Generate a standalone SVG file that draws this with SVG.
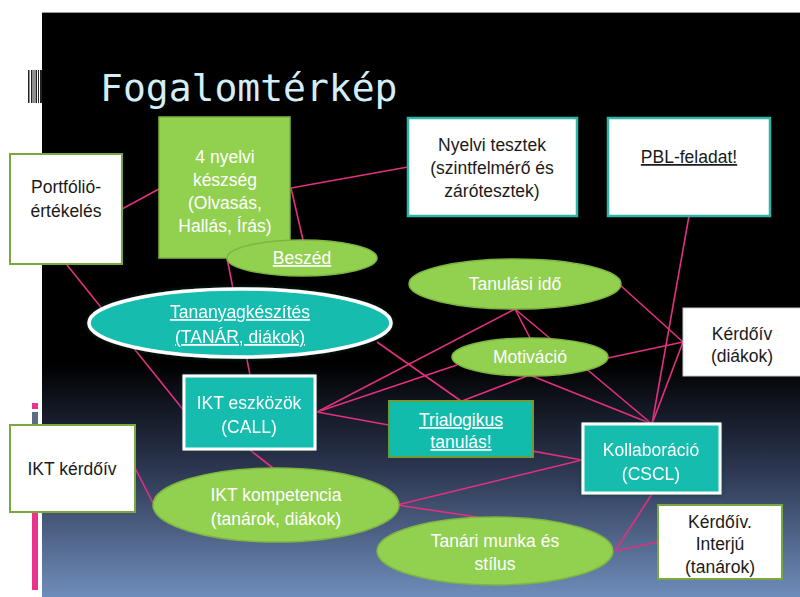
<svg xmlns="http://www.w3.org/2000/svg" width="800" height="597" viewBox="0 0 800 597">
<defs>
<linearGradient id="bg" x1="0" y1="12" x2="0" y2="597" gradientUnits="userSpaceOnUse">
<stop offset="0" stop-color="#000"/>
<stop offset="0.6" stop-color="#000"/>
<stop offset="0.78" stop-color="#2c3650"/>
<stop offset="1" stop-color="#6f8dba"/>
</linearGradient>
<filter id="glow" x="-20%" y="-20%" width="140%" height="140%">
<feDropShadow dx="0" dy="0" stdDeviation="2" flood-color="#0a3a36" flood-opacity="0.9"/>
</filter>
</defs>
<style>
.lnk{stroke:#e3307f;stroke-width:1.6;fill:none}
.wbg{fill:#fff;stroke:#79a83f;stroke-width:2}
.wbt{fill:#fff;stroke:#2db6a8;stroke-width:2.5}
.grn{fill:#92d050;stroke:#7fb541;stroke-width:1.5}
text{font-family:"Liberation Sans","Noto Sans",sans-serif;font-size:17.5px;text-anchor:middle}
.d{fill:#1a1a1a}
.l{fill:#fff}
.u{text-decoration:underline}
</style>
<rect x="0" y="0" width="800" height="597" fill="#fff"/>
<rect x="42" y="12" width="758" height="585" fill="url(#bg)"/>
<line x1="42" y1="12.5" x2="800" y2="12.5" stroke="#999" stroke-width="1"/>
<g id="deco" fill="#222">
<rect x="28" y="70" width="1.5" height="33"/>
<rect x="31" y="70" width="1.5" height="33"/>
<rect x="33.5" y="70" width="1" height="33"/>
<rect x="35.5" y="70" width="1.5" height="33"/>
<rect x="38" y="70" width="1" height="33"/>
<rect x="40" y="70" width="2" height="33"/>
<rect x="32" y="403" width="6" height="6" fill="#e8348a"/>
<rect x="32" y="412" width="6" height="20" fill="#5d6b85"/>
<rect x="32" y="505" width="6" height="85" fill="#e8348a"/>
</g>
<text x="100" y="101" style="font-family:'DejaVu Sans Mono',monospace;font-size:38px;text-anchor:start;fill:#d4eef8">Fogalomtérkép</text>
<g id="connectors">
<line class="lnk" x1="122" y1="209" x2="159" y2="189"/>
<line class="lnk" x1="67" y1="265" x2="185" y2="412"/>
<line class="lnk" x1="291" y1="188" x2="408" y2="167"/>
<line class="lnk" x1="291" y1="188" x2="303" y2="240"/>
<line class="lnk" x1="227" y1="258" x2="250" y2="375"/>
<line class="lnk" x1="377" y1="342" x2="461" y2="401"/>
<line class="lnk" x1="317" y1="412" x2="515" y2="309"/>
<line class="lnk" x1="317" y1="412" x2="457" y2="365"/>
<line class="lnk" x1="317" y1="412" x2="582" y2="460"/>
<line class="lnk" x1="515" y1="309" x2="530" y2="338"/>
<line class="lnk" x1="515" y1="309" x2="652" y2="424"/>
<line class="lnk" x1="620" y1="285" x2="683" y2="342"/>
<line class="lnk" x1="608" y1="358" x2="683" y2="342"/>
<line class="lnk" x1="689" y1="216" x2="652" y2="424"/>
<line class="lnk" x1="683" y1="342" x2="652" y2="424"/>
<line class="lnk" x1="532" y1="376" x2="652" y2="424"/>
<line class="lnk" x1="527" y1="376" x2="462" y2="401"/>
<line class="lnk" x1="397" y1="505" x2="582" y2="460"/>
<line class="lnk" x1="397" y1="505" x2="477" y2="517"/>
<line class="lnk" x1="250" y1="450" x2="273" y2="468"/>
<line class="lnk" x1="135" y1="468" x2="153" y2="503"/>
<line class="lnk" x1="615" y1="551" x2="658" y2="542"/>
<line class="lnk" x1="615" y1="551" x2="652" y2="494"/>
</g>
<g id="portfolio">
<rect class="wbg" x="10" y="154" width="112" height="110"/>
<text class="d" x="66" y="193">Portfólió-</text>
<text class="d" x="66" y="217">értékelés</text>
</g>
<g id="nyelvi4">
<rect class="grn" x="159" y="117" width="131" height="141"/>
<text class="l" x="225" y="163">4 nyelvi</text>
<text class="l" x="225" y="186">készség</text>
<text class="l" x="225" y="209">(Olvasás,</text>
<text class="l" x="225" y="232">Hallás, Írás)</text>
</g>
<g id="beszed">
<ellipse class="grn" cx="302" cy="258" rx="75" ry="18"/>
<text class="l u" x="302" y="264">Beszéd</text>
</g>
<g id="tananyag" filter="url(#glow)">
<ellipse cx="240" cy="323" rx="151" ry="34" fill="#12bcad" stroke="#fff" stroke-width="3.5"/>
<text class="l u" x="240" y="318">Tananyagkészítés</text>
<text class="l u" x="240" y="343">(TANÁR, diákok)</text>
</g>
<g id="nyelvitesztek">
<rect class="wbt" x="408" y="118" width="169" height="98"/>
<text class="d" x="492" y="151">Nyelvi tesztek</text>
<text class="d" x="492" y="174">(szintfelmérő és</text>
<text class="d" x="492" y="197">zárótesztek)</text>
</g>
<g id="pbl">
<rect class="wbt" x="608" y="118" width="162" height="98"/>
<text class="d u" x="689" y="163">PBL-feladat!</text>
</g>
<g id="tanulasiido">
<ellipse class="grn" cx="515" cy="284" rx="106" ry="25"/>
<text class="l" x="515" y="290">Tanulási idő</text>
</g>
<g id="kerdoiv">
<rect x="683" y="308" width="120" height="68" fill="#fff" stroke="#ccc" stroke-width="1"/>
<text class="d" x="742" y="340">Kérdőív</text>
<text class="d" x="742" y="362">(diákok)</text>
</g>
<g id="motivacio">
<ellipse class="grn" cx="530" cy="357" rx="78" ry="19"/>
<text class="l" x="530" y="363">Motiváció</text>
</g>
<g id="iktesz" filter="url(#glow)">
<rect x="184" y="376" width="131" height="73" fill="#12bcad" stroke="#fff" stroke-width="3"/>
<text class="l" x="249" y="409">IKT eszközök</text>
<text class="l" x="249" y="433">(CALL)</text>
</g>
<g id="trialog">
<rect x="389" y="401" width="144" height="56" fill="#12bcad" stroke="#6d9c36" stroke-width="2"/>
<text class="l u" x="461" y="426">Trialogikus</text>
<text class="l u" x="461" y="448">tanulás!</text>
</g>
<g id="kollab" filter="url(#glow)">
<rect x="583" y="424" width="137" height="69" fill="#12bcad" stroke="#fff" stroke-width="3"/>
<text class="l" x="651" y="456">Kollaboráció</text>
<text class="l" x="651" y="480">(CSCL)</text>
</g>
<g id="iktkerdoiv">
<rect class="wbg" x="10" y="425" width="125" height="87"/>
<text class="d" x="72" y="475">IKT kérdőív</text>
</g>
<g id="iktkomp">
<ellipse class="grn" cx="276" cy="505" rx="123" ry="37"/>
<text class="l" x="276" y="501">IKT kompetencia</text>
<text class="l" x="276" y="525">(tanárok, diákok)</text>
</g>
<g id="tanari">
<ellipse class="grn" cx="495" cy="551" rx="118" ry="34"/>
<text class="l" x="495" y="547">Tanári munka és</text>
<text class="l" x="495" y="570">stílus</text>
</g>
<g id="interju">
<rect class="wbg" x="658" y="505" width="124" height="74"/>
<text class="d" x="720" y="528">Kérdőív.</text>
<text class="d" x="720" y="550">Interjú</text>
<text class="d" x="720" y="573">(tanárok)</text>
</g>
</svg>
